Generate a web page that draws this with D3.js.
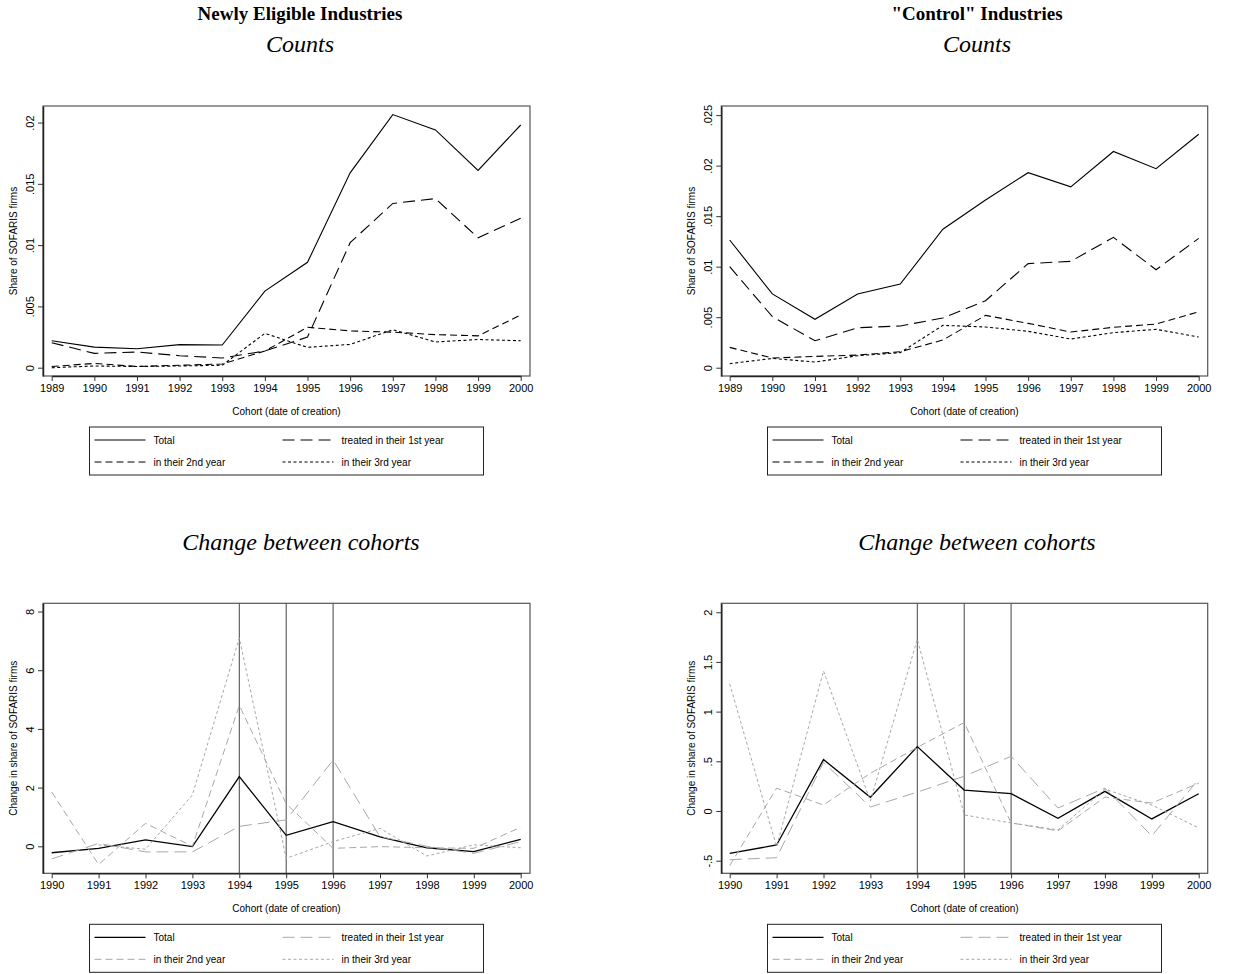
<!DOCTYPE html>
<html><head><meta charset="utf-8">
<script src="https://cdn.jsdelivr.net/npm/d3@7"></script>
<style>body{margin:0;background:#fff} svg{display:block}</style>
</head><body>
<svg id="chart" width="1234" height="974"></svg>
<script>
// ---------- data ----------
const years = [1989,1990,1991,1992,1993,1994,1995,1996,1997,1998,1999,2000];
const changeYears = [1990,1991,1992,1993,1994,1995,1996,1997,1998,1999,2000];
const seriesLabels = ["Total","treated in their 1st year","in their 2nd year","in their 3rd year"];

// Newly eligible industries - counts (share of SOFARIS firms)
const neTotal  = [0.0022,0.00168,0.00155,0.00188,0.00185,0.00625,0.0086,0.0159,0.02065,0.0194,0.0161,0.0198];
const neFirst  = [0.00204,0.00117,0.00128,0.00098,0.00079,0.00136,0.0025,0.0102,0.0134,0.0138,0.0106,0.0122];
const neSecond = [0.0001,0.00035,0.0001,0.0002,0.0003,0.00136,0.0033,0.003,0.0029,0.0027,0.0026,0.0043];
const neThird  = [0,0.00014,0.0001,0.00014,0.0002,0.0028,0.00166,0.0019,0.0031,0.0021,0.0023,0.0022];

// "Control" industries - counts
const ctTotal  = [0.01264,0.0073,0.00479,0.0073,0.00828,0.0137,0.0166,0.0193,0.0179,0.0214,0.0197,0.0231];
const ctFirst  = [0.0100,0.00505,0.00267,0.00396,0.00413,0.00492,0.00663,0.0103,0.01053,0.0129,0.0097,0.0128];
const ctSecond = [0.00201,0.00096,0.00112,0.00125,0.00158,0.00274,0.00518,0.00439,0.00353,0.004,0.00432,0.00554];
const ctThird  = [0.0004,0.00092,0.00056,0.00119,0.00149,0.00419,0.00403,0.0036,0.00284,0.00347,0.0038,0.00304];

// Newly eligible industries - change between cohorts
const neChTotal  = [-0.22,-0.07,0.22,-0.01,2.375,0.375,0.84,0.32,-0.05,-0.18,0.24];
const neChFirst  = [-0.43,0.1,-0.19,-0.19,0.68,0.9,2.94,0.33,0.0,-0.24,0.16];
const neChSecond = [1.85,-0.62,0.78,0.0,4.8,1.45,-0.07,-0.01,-0.05,-0.07,0.65];
const neChThird  = [null,0.05,-0.1,1.75,7.1,-0.41,0.16,0.61,-0.33,0.05,-0.05];

// "Control" industries - change between cohorts
const ctChTotal  = [-0.426,-0.342,0.517,0.138,0.648,0.211,0.174,-0.074,0.198,-0.08,0.174];
const ctChFirst  = [-0.49,-0.47,0.49,0.04,0.19,0.35,0.55,0.03,0.23,-0.25,0.32];
const ctChSecond = [-0.55,0.23,0.06,0.38,0.64,0.89,-0.12,-0.2,0.14,0.08,0.28];
const ctChThird  = [1.28,-0.36,1.41,0.1,1.73,-0.04,-0.12,-0.19,0.22,0.06,-0.17];

// tick values
const countTicksLeft  = [0,0.005,0.01,0.015,0.02];
const countTicksRight = [0,0.005,0.01,0.015,0.02,0.025];
const changeTicksLeft  = [0,2,4,6,8];
const changeTicksRight = [-0.5,0,0.5,1,1.5,2];
const eligibilityYears = [1994,1995,1996];

// ---------- drawing ----------
const svg = d3.select("#chart");
svg.append("rect").attr("width",1234).attr("height",974).attr("fill","#fff");

const SANS = "Liberation Sans, Arial, sans-serif";
const SERIF = "Liberation Serif, Times New Roman, serif";
const dashes = [null,"12,6","7,4","3,2.5"];

function stataFmt(v){
  if (v === 0) return "0";
  let s = String(+v.toFixed(4));
  s = s.replace(/^0\./,".").replace(/^-0\./,"-.");
  return s;
}

function panel(o){
  const g = svg.append("g");
  const x = d3.scaleLinear().domain([o.xs[0], o.xs[o.xs.length-1]]).range(o.xr);
  const y = d3.scaleLinear().domain(o.yDomain).range([o.box.y1, o.box.y0]);

  g.append("rect").attr("x",o.box.x0).attr("y",o.box.y0)
    .attr("width",o.box.x1-o.box.x0).attr("height",o.box.y1-o.box.y0)
    .attr("fill","none").attr("stroke","#555").attr("stroke-width",1.2);

  const ya = g.append("g").attr("transform",`translate(${o.box.x0},0)`)
    .call(d3.axisLeft(y).tickValues(o.yTicks).tickFormat(stataFmt).tickSize(5).tickSizeOuter(0));
  ya.select(".domain").attr("stroke","#222").attr("stroke-width",1.5);
  ya.selectAll(".tick line").attr("stroke","#333");
  ya.selectAll(".tick text").attr("transform","rotate(-90)").attr("x",0).attr("y",-9.5)
    .attr("dy",0).attr("text-anchor","middle").attr("font-family",SANS).attr("font-size",11).attr("fill","#000");

  const xa = g.append("g").attr("transform",`translate(0,${o.box.y1})`)
    .call(d3.axisBottom(x).tickValues(o.xs).tickFormat(d3.format("d")).tickSize(5).tickSizeOuter(0));
  xa.select(".domain").attr("stroke","#222").attr("stroke-width",1.5);
  xa.selectAll(".tick line").attr("stroke","#333");
  xa.selectAll(".tick text").attr("font-family",SANS).attr("font-size",11).attr("fill","#000");

  (o.vlines||[]).forEach(v=>{
    g.append("line").attr("x1",x(v)).attr("x2",x(v)).attr("y1",o.box.y0).attr("y2",o.box.y1)
      .attr("stroke","#444").attr("stroke-width",1);
  });

  const line = d3.line().defined(d=>d[1]!=null).x(d=>x(d[0])).y(d=>y(d[1]));
  o.series.forEach((s,i)=>{
    g.append("path").datum(o.xs.map((yr,j)=>[yr,s[j]]))
      .attr("d",line).attr("fill","none")
      .attr("stroke",o.colors[i]).attr("stroke-width",o.widths[i])
      .attr("stroke-dasharray",dashes[i]);
  });

  const cy = (o.box.y0+o.box.y1)/2;
  g.append("text").attr("transform",`translate(${o.box.x0-26},${cy}) rotate(-90)`)
    .attr("text-anchor","middle").attr("font-family",SANS).attr("font-size",10).text(o.yTitle);
  const cx = (o.box.x0+o.box.x1)/2;
  g.append("text").attr("x",cx).attr("y",o.box.y1+39).attr("text-anchor","middle")
    .attr("font-family",SANS).attr("font-size",10).text("Cohort (date of creation)");

  const lx = cx-197, ly = o.box.y1+51, lw = 394, lh = 48;
  const lg = g.append("g");
  lg.append("rect").attr("x",lx).attr("y",ly).attr("width",lw).attr("height",lh)
    .attr("fill","#fff").attr("stroke","#222").attr("stroke-width",1);
  seriesLabels.forEach((lab,i)=>{
    const col = i%2, row = Math.floor(i/2);
    const sx = lx + (col===0?5:193), sy = ly + 13 + row*22;
    lg.append("line").attr("x1",sx).attr("x2",sx+51).attr("y1",sy).attr("y2",sy)
      .attr("stroke",o.colors[i]).attr("stroke-width",o.widths[i]).attr("stroke-dasharray",dashes[i]);
    lg.append("text").attr("x",sx+59).attr("y",sy).attr("dy","0.35em")
      .attr("font-family",SANS).attr("font-size",10).text(lab);
  });
}

const blackCols = ["#000","#000","#000","#000"];
const grayCols = ["#000","#a8a8a8","#a8a8a8","#a8a8a8"];
const boxL = {x0:43, x1:530};
const boxR = {x0:721.3, x1:1207.7};

panel({box:{...boxL,y0:106,y1:376}, xs:years, xr:[51.7,520.7],
  yDomain:[-0.000677,0.02135], yTicks:countTicksLeft,
  series:[neTotal,neFirst,neSecond,neThird], colors:blackCols, widths:[1.1,1.1,1.1,1.1],
  yTitle:"Share of SOFARIS firms"});
panel({box:{...boxR,y0:106,y1:376}, xs:years, xr:[729.7,1198.7],
  yDomain:[-0.00082,0.0259], yTicks:countTicksRight,
  series:[ctTotal,ctFirst,ctSecond,ctThird], colors:blackCols, widths:[1.1,1.1,1.1,1.1],
  yTitle:"Share of SOFARIS firms"});
panel({box:{...boxL,y0:603.3,y1:873.3}, xs:changeYears, xr:[51.7,520.7],
  yDomain:[-0.92,8.28], yTicks:changeTicksLeft, vlines:eligibilityYears,
  series:[neChTotal,neChFirst,neChSecond,neChThird], colors:grayCols, widths:[1.3,1,1,1],
  yTitle:"Change in share of SOFARIS firms"});
panel({box:{...boxR,y0:603.3,y1:873.3}, xs:changeYears, xr:[729.7,1198.7],
  yDomain:[-0.627,2.09], yTicks:changeTicksRight, vlines:eligibilityYears,
  series:[ctChTotal,ctChFirst,ctChSecond,ctChThird], colors:grayCols, widths:[1.3,1,1,1],
  yTitle:"Change in share of SOFARIS firms"});

// titles
function title(txt,x,y,style,size){
  svg.append("text").attr("x",x).attr("y",y).attr("text-anchor","middle")
    .attr("font-family",SERIF).attr("font-size",size)
    .attr("font-weight",style==="bold"?"bold":"normal")
    .attr("font-style",style==="italic"?"italic":"normal").text(txt);
}
title("Newly Eligible Industries",300,20,"bold",19);
title("Counts",300,52,"italic",24);
title("\"Control\" Industries",977,20,"bold",19);
title("Counts",977,52,"italic",24);
title("Change between cohorts",301,550,"italic",24);
title("Change between cohorts",977,550,"italic",24);
</script>
</body></html>
